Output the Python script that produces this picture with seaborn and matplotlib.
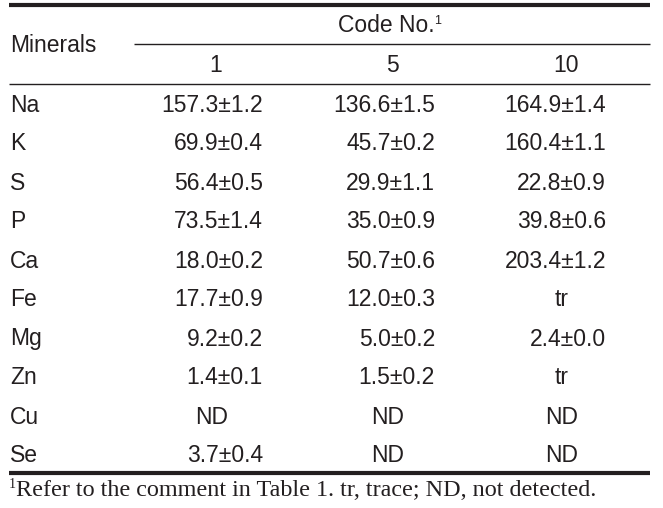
import matplotlib
matplotlib.use("Agg")
import matplotlib.pyplot as plt
import seaborn as sns

# ----------------------------------------------------------------------
# Table data
# ----------------------------------------------------------------------
minerals = ["Na", "K", "S", "P", "Ca", "Fe", "Mg", "Zn", "Cu", "Se"]
code_nos = ["1", "5", "10"]
code_1 = ["157.3±1.2", "69.9±0.4", "56.4±0.5", "73.5±1.4", "18.0±0.2",
          "17.7±0.9", "9.2±0.2", "1.4±0.1", "ND", "3.7±0.4"]
code_5 = ["136.6±1.5", "45.7±0.2", "29.9±1.1", "35.0±0.9", "50.7±0.6",
          "12.0±0.3", "5.0±0.2", "1.5±0.2", "ND", "ND"]
code_10 = ["164.9±1.4", "160.4±1.1", "22.8±0.9", "39.8±0.6", "203.4±1.2",
           "tr", "2.4±0.0", "tr", "ND", "ND"]
footnote = "Refer to the comment in Table 1. tr, trace; ND, not detected."

sns.set_theme(style="white")
plt.rcParams["font.family"] = ["Liberation Sans", "DejaVu Sans"]

INK = "#231f20"
FS = 16.5
SERIF = ["Liberation Serif", "DejaVu Serif"]

fig = plt.figure(figsize=(6.63, 5.08), dpi=100)
ax = fig.add_axes([0, 0, 1, 1])
ax.set_xlim(0, 663)
ax.set_ylim(508, 0)
ax.axis("off")

# rules
ax.plot([9, 650], [5, 5], color=INK, lw=3.0, solid_capstyle="butt")
ax.plot([134, 650], [44, 44], color=INK, lw=1.0, solid_capstyle="butt")
ax.plot([9, 650], [83.5, 83.5], color=INK, lw=1.0, solid_capstyle="butt")
ax.plot([9, 650], [472.5, 472.5], color=INK, lw=3.0, solid_capstyle="butt")

# header
ax.text(10, 46, "Minerals", fontsize=FS, color=INK, ha="left", va="center")
ax.text(386, 26, "Code No.", fontsize=FS, color=INK, ha="center", va="center")
ax.text(434, 21, "1", fontsize=9, color=INK, ha="left", va="center")
col_center = [216, 392, 566]
col_right = [263, 435, 606]
for cx, code in zip(col_center, code_nos):
    ax.text(cx, 65, code, fontsize=FS, color=INK, ha="center", va="center")

# body
row_y0, row_dy = 105, 39
for i, name in enumerate(minerals):
    y = row_y0 + i * row_dy
    ax.text(10, y, name, fontsize=FS, color=INK, ha="left", va="center")
    for j, col in enumerate([code_1, code_5, code_10]):
        val = col[i]
        if val in ("ND", "tr"):
            ax.text(col_center[j] - 4, y, val, fontsize=FS, color=INK,
                    ha="center", va="center")
        else:
            ax.text(col_right[j], y, val, fontsize=FS, color=INK,
                    ha="right", va="center")

# footnote
ax.text(9, 484, "1", fontsize=10, color=INK, ha="left", va="center",
        family=SERIF)
ax.text(16, 490, footnote, fontsize=17.4, color=INK, ha="left", va="center",
        family=SERIF)

fig.savefig("out.png", dpi=100)
